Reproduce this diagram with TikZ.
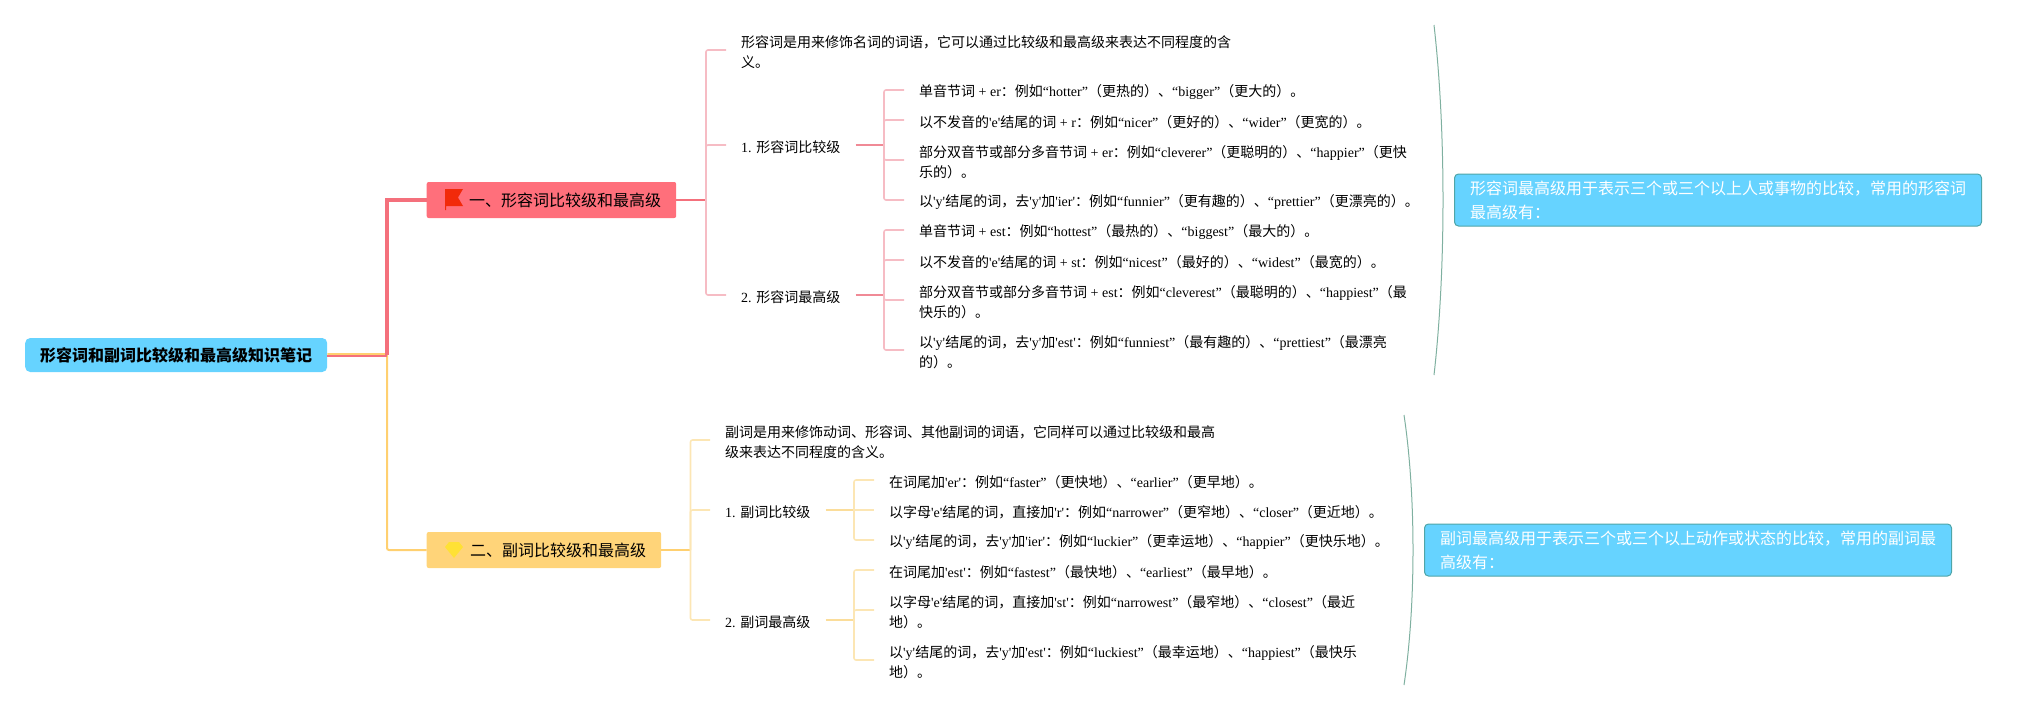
\documentclass[tikz,border=0pt]{standalone}
\usepackage{fontspec}
\setmainfont{Noto Sans CJK SC}
\newfontfamily\latinfont[Ligatures=NoCommon]{Liberation Serif}
\newcommand{\la}[1]{{\latinfont #1}}
\usetikzlibrary{positioning, calc}
\definecolor{rootblue}{HTML}{66D3FF}
\definecolor{sumedge}{HTML}{4FA5A8}
\definecolor{curvegreen}{HTML}{7FB0A0}
\definecolor{redbox}{HTML}{FF6F7B}
\definecolor{redmain}{HTML}{F4707C}
\definecolor{redmid}{HTML}{F08A96}
\definecolor{redpale}{HTML}{F6BCC4}
\definecolor{yelbox}{HTML}{FFD479}
\definecolor{yelmain}{HTML}{FFD070}
\definecolor{yelmid}{HTML}{FBDD9A}
\definecolor{yelpale}{HTML}{FCE6B4}
\definecolor{flagred}{HTML}{F22A0A}
\definecolor{gemyellow}{HTML}{FFE135}

\begin{document}
\begin{tikzpicture}[
  x=1pt, y=-1pt,
  leaf/.style={anchor=west, yshift=-2pt, inner xsep=15pt, inner ysep=0pt, align=left, font=\fontsize{14}{20}\selectfont},
  headbox/.style={anchor=west, minimum height=36pt, inner xsep=15pt, inner ysep=0pt, rounded corners=2pt, font=\fontsize{16}{20}\selectfont},
  sumbox/.style={anchor=west, draw=sumedge, line width=1pt, fill=rootblue, text=white, minimum width=527pt, minimum height=52pt,
    inner xsep=15pt, inner ysep=0pt, rounded corners=4pt, align=left, font=\fontsize{16}{24}\selectfont},
  fork/.style={line width=1.6pt, rounded corners=2pt},
  curve/.style={draw=curvegreen, line width=1pt},
]
  \useasboundingbox (0,0) rectangle (2026,710);

  \node[headbox, fill=rootblue, rounded corners=5pt, minimum height=34pt, font=\fontsize{16}{20}\selectfont\bfseries] (root) at (25,355) {形容词和副词比较级和最高级知识笔记};
  \node[headbox, fill=redbox] (adjhead) at (426.5,200) {\hspace{27.5pt}一、形容词比较级和最高级};
  \node[headbox, fill=yelbox] (advhead) at (426.5,550) {\hspace{28.5pt}二、副词比较级和最高级};

  % adjectives
  \node[leaf] (adjnote) at (726,50)  {形容词是用来修饰名词的词语，它可以通过比较级和最高级来表达不同程度的含\\义。};
  \node[leaf] (adjcmp)  at (726,145) {\la{1. }形容词比较级};
  \node[leaf] (adjsup)  at (726,295) {\la{2. }形容词最高级};

  \node[leaf] (adjcmpa) at (904,90)  {单音节词\la{ + er}：例如\la{“hotter”}（更热的）、\la{“bigger”}（更大的）。};
  \node[leaf] (adjcmpb) at (904,120) {以不发音的\la{'e'}结尾的词\la{ + r}：例如\la{“nicer”}（更好的）、\la{“wider”}（更宽的）。};
  \node[leaf] (adjcmpc) at (904,160) {部分双音节或部分多音节词\la{ + er}：例如\la{“cleverer”}（更聪明的）、\la{“happier”}（更快\\乐的）。};
  \node[leaf] (adjcmpd) at (904,200) {以\la{'y'}结尾的词，去\la{'y'}加\la{'ier'}：例如\la{“funnier”}（更有趣的）、\la{“prettier”}（更漂亮的）。};

  \node[leaf] (adjsupa) at (904,230) {单音节词\la{ + est}：例如\la{“hottest”}（最热的）、\la{“biggest”}（最大的）。};
  \node[leaf] (adjsupb) at (904,260) {以不发音的\la{'e'}结尾的词\la{ + st}：例如\la{“nicest”}（最好的）、\la{“widest”}（最宽的）。};
  \node[leaf] (adjsupc) at (904,300) {部分双音节或部分多音节词\la{ + est}：例如\la{“cleverest”}（最聪明的）、\la{“happiest”}（最\\快乐的）。};
  \node[leaf] (adjsupd) at (904,350) {以\la{'y'}结尾的词，去\la{'y'}加\la{'est'}：例如\la{“funniest”}（最有趣的）、\la{“prettiest”}（最漂亮\\的）。};

  % adverbs
  \node[leaf] (advnote) at (710,440) {副词是用来修饰动词、形容词、其他副词的词语，它同样可以通过比较级和最高\\级来表达不同程度的含义。};
  \node[leaf] (advcmp)  at (710,510) {\la{1. }副词比较级};
  \node[leaf] (advsup)  at (710,620) {\la{2. }副词最高级};

  \node[leaf] (advcmpa) at (874,480) {在词尾加\la{'er'}：例如\la{“faster”}（更快地）、\la{“earlier”}（更早地）。};
  \node[leaf] (advcmpb) at (874,510) {以字母\la{'e'}结尾的词，直接加\la{'r'}：例如\la{“narrower”}（更窄地）、\la{“closer”}（更近地）。};
  \node[leaf] (advcmpc) at (874,540) {以\la{'y'}结尾的词，去\la{'y'}加\la{'ier'}：例如\la{“luckier”}（更幸运地）、\la{“happier”}（更快乐地）。};

  \node[leaf] (advsupa) at (874,570) {在词尾加\la{'est'}：例如\la{“fastest”}（最快地）、\la{“earliest”}（最早地）。};
  \node[leaf] (advsupb) at (874,610) {以字母\la{'e'}结尾的词，直接加\la{'st'}：例如\la{“narrowest”}（最窄地）、\la{“closest”}（最近\\地）。};
  \node[leaf] (advsupc) at (874,660) {以\la{'y'}结尾的词，去\la{'y'}加\la{'est'}：例如\la{“luckiest”}（最幸运地）、\la{“happiest”}（最快乐\\地）。};

  \node[sumbox] (adjsum) at (1454,200) {形容词最高级用于表示三个或三个以上人或事物的比较，常用的形容词\\最高级有：};
  \node[sumbox] (advsum) at (1424,550) {副词最高级用于表示三个或三个以上动作或状态的比较，常用的副词最\\高级有：};

  % joints of the forks
  \coordinate (trunk)  at (387,355);
  \coordinate (adjhub) at (706,200);
  \coordinate (advhub) at (690.5,550);
  \coordinate (adjcmphub) at (884,145);
  \coordinate (adjsuphub) at (884,295);
  \coordinate (advcmphub) at (854,510);
  \coordinate (advsuphub) at (854,620);

  % root to heads
  \draw[fork, line width=2pt, draw=yelmain] ([yshift=1pt]root.east) -- ([yshift=1pt]trunk) |- (advhead.west);
  \draw[fork, line width=2pt, draw=redmain] ([yshift=-1pt]root.east) -- ([yshift=-1pt]trunk);
  \draw[draw=redmain, line width=4pt] (trunk) |- (adjhead.west);

  % adjective forks
  \draw[fork, line width=2pt, draw=redmain] (adjhead.east) -- (adjhub);
  \draw[fork, draw=redpale] (adjhub) |- ([yshift=2pt]adjnote.west);
  \draw[fork, draw=redpale] (adjhub) |- ([yshift=2pt]adjcmp.west);
  \draw[fork, draw=redpale] (adjhub) |- ([yshift=2pt]adjsup.west);
  \draw[fork, draw=redmid, line width=2.5pt] ([yshift=2pt]adjcmp.east) -- (adjcmphub);
  \draw[fork, draw=redpale] (adjcmphub) |- ([yshift=2pt]adjcmpa.west);
  \draw[fork, draw=redpale] (adjcmphub) |- ([yshift=2pt]adjcmpb.west);
  \draw[fork, draw=redpale] (adjcmphub) |- ([yshift=2pt]adjcmpc.west);
  \draw[fork, draw=redpale] (adjcmphub) |- ([yshift=2pt]adjcmpd.west);
  \draw[fork, draw=redmid, line width=2.5pt] ([yshift=2pt]adjsup.east) -- (adjsuphub);
  \draw[fork, draw=redpale] (adjsuphub) |- ([yshift=2pt]adjsupa.west);
  \draw[fork, draw=redpale] (adjsuphub) |- ([yshift=2pt]adjsupb.west);
  \draw[fork, draw=redpale] (adjsuphub) |- ([yshift=2pt]adjsupc.west);
  \draw[fork, draw=redpale] (adjsuphub) |- ([yshift=2pt]adjsupd.west);

  % adverb forks
  \draw[fork, line width=2pt, draw=yelmain] (advhead.east) -- (advhub);
  \draw[fork, draw=yelpale] (advhub) |- ([yshift=2pt]advnote.west);
  \draw[fork, draw=yelpale] (advhub) |- ([yshift=2pt]advcmp.west);
  \draw[fork, draw=yelpale] (advhub) |- ([yshift=2pt]advsup.west);
  \draw[fork, draw=yelmid, line width=2.5pt] ([yshift=2pt]advcmp.east) -- (advcmphub);
  \draw[fork, draw=yelpale] (advcmphub) |- ([yshift=2pt]advcmpa.west);
  \draw[fork, draw=yelpale] (advcmphub) -- ([yshift=2pt]advcmpb.west);
  \draw[fork, draw=yelpale] (advcmphub) |- ([yshift=2pt]advcmpc.west);
  \draw[fork, draw=yelmid, line width=2.5pt] ([yshift=2pt]advsup.east) -- (advsuphub);
  \draw[fork, draw=yelpale] (advsuphub) |- ([yshift=2pt]advsupa.west);
  \draw[fork, draw=yelpale] (advsuphub) |- ([yshift=2pt]advsupb.west);
  \draw[fork, draw=yelpale] (advsuphub) |- ([yshift=2pt]advsupc.west);

  % summary curves
  \coordinate (adjtop) at (1434,25);
  \coordinate (adjbot) at (1434,375);
  \coordinate (advtop) at (1404,415);
  \coordinate (advbot) at (1404,685);
  \draw[curve] (adjtop) .. controls (1446,130) and (1446,270) .. (adjbot);
  \draw[curve] (advtop) .. controls (1416,495) and (1416,605) .. (advbot);

  % flag and gem
  \fill[flagred] (445,189) -- (463,189) -- (458,197.5) -- (463,206) -- (446,206) -- (446,210) -- (445,210) -- cycle;
  \fill[gemyellow] (449,542) -- (459,542) -- (463,547) -- (454,558) -- (445,547) -- cycle;
\end{tikzpicture}
\end{document}
